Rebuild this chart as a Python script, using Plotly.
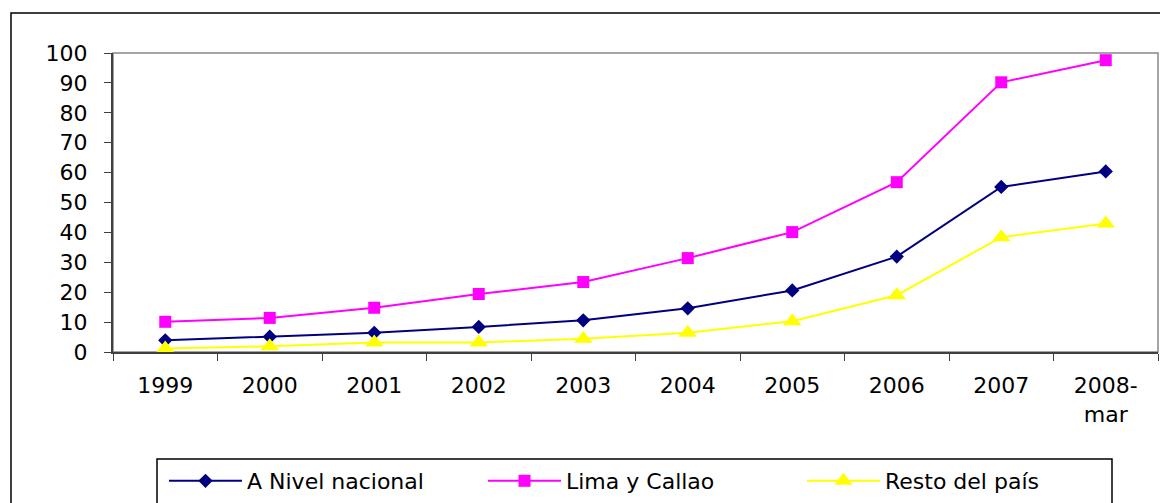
import plotly.graph_objects as go

categories = ["1999", "2000", "2001", "2002", "2003", "2004", "2005", "2006", "2007", "2008-<br>mar"]
nacional = [3.9, 5.1, 6.4, 8.4, 10.6, 14.6, 20.6, 31.9, 55.2, 60.4]
lima_callao = [10.1, 11.4, 14.8, 19.4, 23.4, 31.4, 40.1, 56.8, 90.2, 97.6]
resto_pais = [1.2, 1.9, 3.2, 3.2, 4.4, 6.4, 10.3, 19.0, 38.4, 43.0]
y_ticks = list(range(0, 101, 10))

FONT = "DejaVu Sans, Arial, sans-serif"
FS = 22

fig = go.Figure()
fig.add_trace(go.Scatter(x=categories, y=nacional, name="A Nivel nacional", mode="lines+markers",
                         line=dict(color="#000080", width=2),
                         marker=dict(symbol="diamond", size=11, color="#000080")))
fig.add_trace(go.Scatter(x=categories, y=lima_callao, name="Lima y Callao", mode="lines+markers",
                         line=dict(color="#FF00FF", width=2),
                         marker=dict(symbol="square", size=12, color="#FF00FF")))
fig.add_trace(go.Scatter(x=categories, y=resto_pais, name="Resto del país", mode="lines+markers",
                         line=dict(color="#FFFF00", width=2),
                         marker=dict(symbol="triangle-up", size=16, color="#FFFF00")))

# page body has an 8px margin, so the figure sits at (8, 8) in the window
OFF = 8
W, H = 1168 - OFF, 503 - OFF
L, R, T, B = 113 - OFF, 10, 53 - OFF, 503 - 352
pw, ph = W - L - R, H - T - B

def px_x(v):  # page pixel -> paper fraction
    return (v - OFF - L) / pw

def px_y(v):
    return (H - B - (v - OFF)) / ph

fig.update_layout(
    width=W, height=H,
    margin=dict(l=L, r=R, t=T, b=B, autoexpand=False),
    paper_bgcolor="white", plot_bgcolor="white",
    font=dict(family=FONT, size=FS, color="black"),
    showlegend=True,
    legend=dict(orientation="h", x=px_x(164), y=px_y(460), xanchor="left", yanchor="top",
                font=dict(family=FONT, size=FS, color="black"),
                bgcolor="rgba(0,0,0,0)", borderwidth=0,
                entrywidthmode="pixels", entrywidth=231,
                itemwidth=73),
    xaxis=dict(type="category", range=[-0.5, 9.5], showgrid=False, zeroline=False,
               showline=True, linecolor="#404040", linewidth=2,
               ticks="outside", tickson="boundaries", ticklen=7, tickcolor="#404040", tickwidth=1,
               tickfont=dict(family=FONT, size=FS), ticklabelstandoff=13),
    yaxis=dict(range=[0, 100], tickvals=y_ticks, showgrid=False, zeroline=False,
               showline=True, linecolor="#404040", linewidth=2,
               ticks="outside", ticklen=7, tickcolor="#404040", tickwidth=1,
               tickfont=dict(family=FONT, size=FS), ticklabelstandoff=12),
    shapes=[
        dict(type="rect", xref="paper", yref="paper", x0=0, x1=1, y0=0, y1=1,
             line=dict(color="#888888", width=1.5), layer="below"),
        dict(type="rect", xref="paper", yref="paper", x0=px_x(11), x1=px_x(1167), y0=px_y(510), y1=px_y(13),
             line=dict(color="black", width=1.5), layer="below"),
        dict(type="rect", xref="paper", yref="paper", x0=px_x(157), x1=px_x(1112), y0=px_y(510), y1=px_y(459),
             line=dict(color="black", width=1.5), layer="below"),
    ],
)

fig.write_html("out.html")
